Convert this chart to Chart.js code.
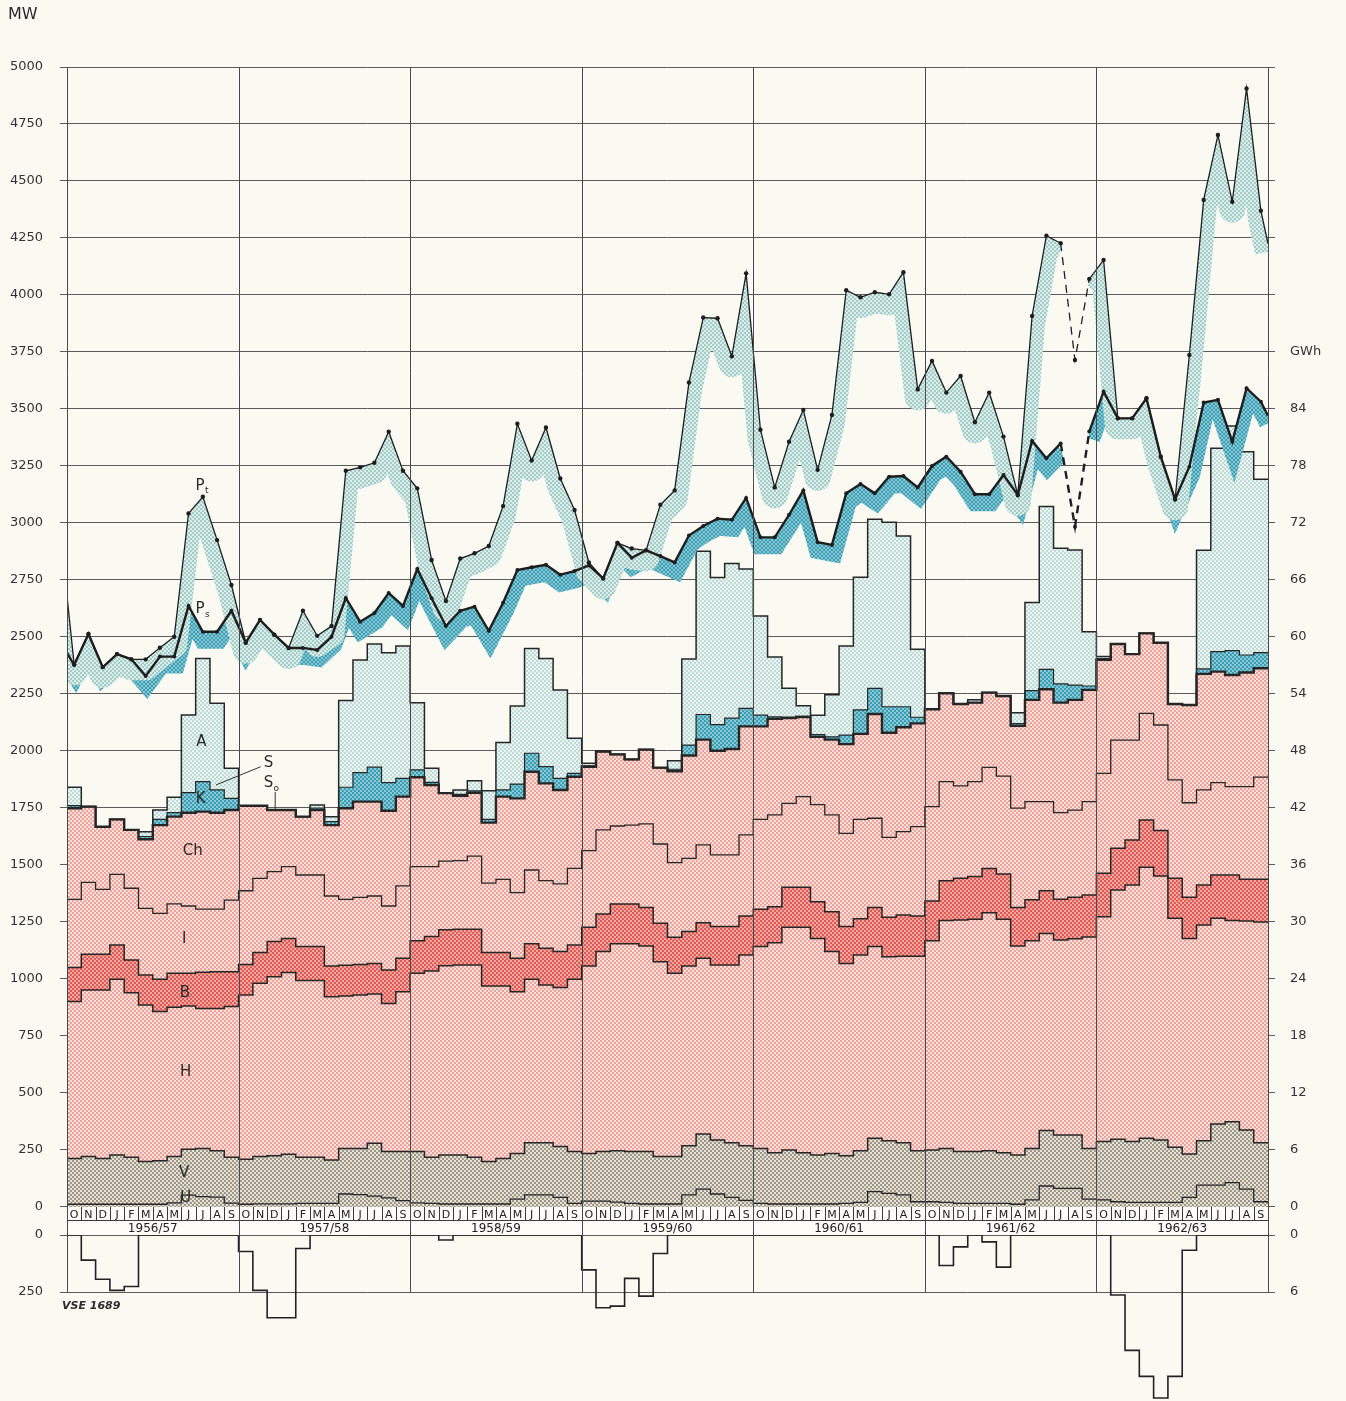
<!DOCTYPE html>
<html>
<head>
<meta charset="utf-8">
<title>Zatížení a výroba 1956/57 – 1962/63</title>
<script src="https://cdn.jsdelivr.net/npm/chart.js@4.4.1/dist/chart.umd.min.js"></script>
<style>
  html, body { margin: 0; padding: 0; background: #fbfaf2; }
  #wrap { position: relative; width: 1346px; height: 1401px; }
</style>
</head>
<body>
<div id="wrap"><canvas id="grafico"></canvas></div>
<script>
const FONT = '"DejaVu Sans", "Liberation Sans", sans-serif';

// hydrological years, October .. September
const MONTHS = ["O", "N", "D", "J", "F", "M", "A", "M", "J", "J", "A", "S"];
const YEARS = ["1956/57", "1957/58", "1958/59", "1959/60", "1960/61", "1961/62", "1962/63"];

const MW_TICKS = [0, 250, 500, 750, 1000, 1250, 1500, 1750, 2000, 2250, 2500, 2750,
  3000, 3250, 3500, 3750, 4000, 4250, 4500, 4750, 5000];
const GWH_TICKS = [0, 6, 12, 18, 24, 30, 36, 42, 48, 54, 60, 66, 72, 78, 84];
const LOW_MW_TICKS = [0, 250];
const LOW_GWH_TICKS = [0, 6];

// upper edge of each layer (MW), one value per month
const U = [
  12, 12, 12, 12, 12, 12, 12, 18, 52, 45, 43, 17,
  12, 14, 14, 14, 16, 16, 16, 57, 54, 48, 40, 28,
  18, 16, 13, 13, 13, 13, 13, 34, 53, 53, 42, 16,
  26, 26, 21, 16, 13, 13, 13, 53, 78, 57, 42, 29,
  16, 13, 13, 13, 13, 13, 16, 20, 67, 60, 53, 23,
  23, 20, 16, 16, 16, 16, 12, 31, 92, 82, 82, 34,
  31, 23, 20, 20, 20, 20, 42, 96, 96, 107, 78, 23
];
const V = [
  213, 221, 213, 228, 218, 199, 203, 221, 253, 257, 247, 218,
  209, 221, 225, 231, 218, 218, 206, 257, 257, 279, 243, 243,
  243, 218, 228, 228, 218, 199, 213, 235, 282, 282, 265, 243,
  235, 243, 247, 243, 243, 221, 221, 268, 320, 294, 282, 268,
  257, 238, 250, 238, 228, 235, 225, 247, 301, 291, 282, 247,
  250, 257, 243, 243, 247, 238, 228, 257, 335, 316, 316, 257,
  287, 297, 287, 301, 294, 262, 232, 291, 364, 374, 338, 282
];
const H = [
  901, 952, 952, 999, 940, 886, 857, 876, 882, 871, 871, 879,
  930, 981, 1010, 1028, 993, 993, 922, 925, 930, 934, 893, 944,
  1025, 1035, 1058, 1061, 1061, 969, 969, 944, 999, 974, 963, 999,
  1057, 1120, 1154, 1154, 1145, 1076, 1025, 1057, 1091, 1061, 1061, 1105,
  1142, 1159, 1227, 1227, 1178, 1120, 1068, 1105, 1142, 1098, 1100, 1100,
  1168, 1256, 1259, 1262, 1291, 1262, 1145, 1168, 1200, 1171, 1176, 1184,
  1273, 1390, 1412, 1490, 1452, 1266, 1178, 1237, 1266, 1256, 1254, 1250
];
const B = [
  1050, 1108, 1108, 1149, 1083, 1018, 999, 1025, 1025, 1029, 1032, 1032,
  1064, 1116, 1164, 1178, 1142, 1142, 1057, 1060, 1064, 1068, 1039, 1091,
  1168, 1186, 1216, 1218, 1218, 1116, 1116, 1091, 1154, 1135, 1120, 1149,
  1227, 1285, 1329, 1329, 1314, 1244, 1183, 1208, 1247, 1230, 1230, 1276,
  1306, 1317, 1402, 1402, 1339, 1295, 1230, 1264, 1314, 1271, 1281, 1276,
  1342, 1431, 1442, 1449, 1485, 1461, 1314, 1347, 1387, 1350, 1358, 1368,
  1464, 1573, 1610, 1697, 1651, 1442, 1358, 1412, 1456, 1456, 1437, 1437
];
const I = [
  1349, 1424, 1393, 1459, 1398, 1310, 1288, 1329, 1320, 1306, 1306, 1346,
  1387, 1441, 1471, 1493, 1456, 1456, 1364, 1349, 1358, 1364, 1320, 1408,
  1493, 1493, 1517, 1519, 1539, 1420, 1437, 1379, 1478, 1431, 1417, 1485,
  1563, 1654, 1671, 1675, 1680, 1592, 1510, 1529, 1588, 1544, 1544, 1632,
  1700, 1720, 1770, 1800, 1765, 1720, 1639, 1700, 1705, 1621, 1646, 1668,
  1756, 1866, 1847, 1866, 1928, 1890, 1749, 1778, 1778, 1730, 1741, 1778,
  1902, 2048, 2048, 2165, 2114, 1873, 1773, 1829, 1861, 1844, 1844, 1885
];
const CH = [
  1749, 1756, 1668, 1700, 1654, 1613, 1675, 1712, 1729, 1734, 1729, 1741,
  1760, 1760, 1741, 1741, 1712, 1741, 1675, 1749, 1778, 1778, 1738, 1800,
  1885, 1851, 1815, 1803, 1817, 1686, 1800, 1792, 1909, 1858, 1829, 1887,
  1931, 1998, 1985, 1963, 2006, 1927, 1911, 1980, 2050, 2001, 2009, 2108,
  2108, 2141, 2144, 2149, 2062, 2050, 2030, 2075, 2162, 2080, 2104, 2121,
  2183, 2253, 2206, 2212, 2256, 2241, 2110, 2224, 2271, 2212, 2224, 2268,
  2400, 2469, 2425, 2516, 2475, 2206, 2202, 2338, 2348, 2333, 2344, 2363
];
const K = [
  1760, 1756, 1668, 1700, 1654, 1625, 1700, 1730, 1817, 1866, 1829, 1792,
  1760, 1760, 1741, 1741, 1712, 1750, 1690, 1841, 1905, 1929, 1861, 1880,
  1917, 1862, 1815, 1810, 1825, 1700, 1829, 1855, 1990, 1931, 1880, 1902,
  1935, 1998, 1985, 1963, 2006, 1927, 1920, 2026, 2160, 2116, 2144, 2187,
  2157, 2150, 2149, 2152, 2072, 2062, 2070, 2180, 2275, 2194, 2194, 2148,
  2183, 2253, 2206, 2212, 2256, 2241, 2120, 2265, 2358, 2294, 2289, 2285,
  2405, 2469, 2425, 2516, 2475, 2206, 2202, 2360, 2436, 2440, 2421, 2431
];
const A = [
  1841, 1756, 1668, 1700, 1654, 1646, 1741, 1797, 2158, 2406, 2209, 1924,
  1760, 1760, 1741, 1741, 1712, 1763, 1712, 2221, 2399, 2469, 2431, 2460,
  2212, 1924, 1815, 1829, 1870, 1826, 2037, 2197, 2450, 2406, 2268, 2056,
  1946, 1998, 1985, 1963, 2006, 1927, 1957, 2403, 2876, 2761, 2822, 2798,
  2592, 2412, 2275, 2198, 2157, 2247, 2460, 2762, 3016, 3003, 2943, 2446,
  2183, 2253, 2206, 2225, 2256, 2241, 2168, 2651, 3072, 2889, 2882, 2523,
  2414, 2469, 2425, 2516, 2475, 2206, 2202, 2880, 3328, 3425, 3313, 3192
];

// monthly points Pt and Ps (MW), plus the values where the lines cut the frame
const PT = [
  2380, 2513, 2368, 2425, 2402, 2402, 2453, 2501, 3042, 3115, 2925, 2728,
  2475, 2575, 2510, 2452, 2615, 2505, 2548, 3229, 3244, 3264, 3400, 3229,
  3152, 2838, 2658, 2844, 2867, 2899, 3074, 3435, 3274, 3419, 3195, 3057,
  2827, 2757, 2913, 2888, 2880, 3080, 3143, 3616, 3901, 3898, 3731, 4095,
  3409, 3156, 3356, 3496, 3233, 3474, 4021, 3990, 4012, 4003, 4100, 3586,
  3711, 3572, 3645, 3442, 3572, 3379, 3123, 3908, 4260, 4227, 3715, 4070,
  4154, 3459, 3459, 3547, 3291, 3104, 3737, 4417, 4702, 4409, 4906, 4370
];
const PT_EDGES = [2680, 4225];
const PS = [
  2377, 2513, 2367, 2425, 2402, 2329, 2414, 2414, 2636, 2523, 2523, 2615,
  2475, 2575, 2510, 2452, 2452, 2443, 2501, 2671, 2567, 2605, 2693, 2636,
  2798, 2670, 2548, 2615, 2633, 2527, 2650, 2794, 2806, 2817, 2773, 2789,
  2814, 2757, 2913, 2847, 2880, 2855, 2827, 2945, 2987, 3019, 3014, 3110,
  2937, 2937, 3036, 3143, 2916, 2904, 3130, 3171, 3130, 3203, 3206, 3156,
  3250, 3291, 3225, 3126, 3126, 3210, 3123, 3360, 3284, 3349, 2984, 3401,
  3576, 3459, 3459, 3547, 3291, 3104, 3247, 3528, 3540, 3357, 3591, 3532
];
const PS_EDGES = [2430, 3470];
const DASHED_MONTHS = [70];

// lower panel (MW, drawn downwards)
const LOW = [
  0, 110, 194, 243, 226, 0, 0, 0, 0, 0, 0, 0,
  72, 243, 363, 363, 59, 0, 0, 0, 0, 0, 0, 0,
  0, 0, 22, 0, 0, 0, 0, 0, 0, 0, 0, 0,
  153, 319, 312, 190, 268, 81, 0, 0, 0, 0, 0, 0,
  0, 0, 0, 0, 0, 0, 0, 0, 0, 0, 0, 0,
  0, 134, 52, 0, 30, 141, 0, 0, 0, 0, 0, 0,
  0, 263, 506, 620, 715, 620, 67, 0, 0, 0, 0, 0
];

const GWH_PER_MW = 84 / 3500;
const GAP = 123;        // height of the month strip, in MW
const Y_MIN = -851;

// series letters, placed in data units (month, MW)
const LABELS = [
  { text: "P", sub: "t", x: 9.3, y: 3162 },
  { text: "P", sub: "s", x: 9.3, y: 2621 },
  { text: "A", x: 9.4, y: 2041 },
  { text: "K", x: 9.35, y: 1789 },
  { text: "S", x: 14.1, y: 1949 },
  { text: "S", sub: "o", x: 14.1, y: 1858 },
  { text: "Ch", x: 8.8, y: 1563 },
  { text: "I", x: 8.2, y: 1175 },
  { text: "B", x: 8.25, y: 940 },
  { text: "H", x: 8.3, y: 593 },
  { text: "V", x: 8.2, y: 149 },
  { text: "U", x: 8.3, y: 39 }
];
const LEADERS = [
  [13.55, 1931, 10.42, 1851],
  [14.56, 1820, 14.56, 1745]
];

function dots(base, dot) {
  const c = document.createElement("canvas");
  c.width = c.height = 4;
  const g = c.getContext("2d");
  g.fillStyle = base;
  g.fillRect(0, 0, 4, 4);
  g.fillStyle = dot;
  g.fillRect(0, 0, 2, 2);
  g.fillRect(2, 2, 2, 2);
  return g.createPattern(c, "repeat");
}

const rosa = dots("#fbe0da", "#eba29b");
const rojo = dots("#f3a7a1", "#dc5a53");
const celeste = dots("#edf5f2", "#bcdad6");
const azul = dots("#86c9d4", "#3d9db2");
const gris = dots("#e6e1d3", "#9c978a");
const bandaClara = dots("#dcede9", "#a3cdc8");

const stepPoints = arr => arr.map((v, i) => ({ x: i, y: v })).concat([{ x: arr.length, y: arr[arr.length - 1] }]);
const midPoints = (arr, edges) => [{ x: 0, y: edges[0] }]
  .concat(arr.map((v, i) => ({ x: i + 0.5, y: v })), [{ x: arr.length, y: edges[1] }]);

function isGap(ctx) {
  const a = Math.floor(ctx.p0.parsed.x), b = Math.floor(ctx.p1.parsed.x);
  return DASHED_MONTHS.includes(a) || DASHED_MONTHS.includes(b);
}

function layer(label, data, bg, width, fill) {
  return {
    label, data: stepPoints(data), stepped: true, fill,
    backgroundColor: bg, borderColor: "#262626", borderWidth: width,
    pointRadius: 0, order: 3
  };
}

// wide shadow stroke kept only below its own line
function band(label, data, edges, color, width, shift, join) {
  return {
    label, data: midPoints(data, edges), fill: false,
    borderColor: color, borderWidth: width, borderJoinStyle: join,
    pointRadius: 0, order: 2, shift,
    segment: { borderColor: ctx => isGap(ctx) ? "rgba(0,0,0,0)" : undefined }
  };
}

function curve(label, data, edges, width, radius) {
  return {
    label, data: midPoints(data, edges), fill: false,
    borderColor: "#1e1e1e", borderWidth: width,
    pointRadius: ctx => (ctx.raw && ctx.raw.x % 1 ? radius : 0),
    pointBackgroundColor: "#1e1e1e", pointBorderWidth: 0,
    order: 1,
    segment: { borderDash: ctx => isGap(ctx) ? [8, 6] : undefined }
  };
}

const shiftPlugin = {
  id: "shift",
  beforeDatasetDraw(chart, args) {
    const ds = chart.data.datasets[args.index];
    if (!ds.shift) return;
    const ctx = chart.ctx, pts = args.meta.data, bottom = chart.chartArea.bottom;
    ctx.save();
    ctx.beginPath();
    ctx.moveTo(pts[0].x, pts[0].y);
    pts.forEach(p => ctx.lineTo(p.x, p.y));
    ctx.lineTo(pts[pts.length - 1].x, bottom);
    ctx.lineTo(pts[0].x, bottom);
    ctx.closePath();
    ctx.clip();
    ctx.translate(ds.shift[0], ds.shift[1]);
  },
  afterDatasetDraw(chart, args) {
    if (chart.data.datasets[args.index].shift) chart.ctx.restore();
  }
};

function line(ctx, x1, y1, x2, y2) {
  ctx.beginPath();
  ctx.moveTo(x1, y1);
  ctx.lineTo(x2, y2);
  ctx.stroke();
}

const decor = {
  id: "decor",
  afterDatasetsDraw(chart) {
    const { ctx, chartArea } = chart;
    const sx = chart.scales.x, sy = chart.scales.y, sl = chart.scales.yLow;
    const top = sy.getPixelForValue(5000);
    const zero = sy.getPixelForValue(0);
    const lowZero = sl.getPixelForValue(0);
    const low250 = sl.getPixelForValue(LOW_MW_TICKS[1]);
    const mid = Math.round(zero + 13) + 0.5;
    ctx.save();

    ctx.fillStyle = "#fdfcf7";
    ctx.fillRect(chartArea.left, zero, chartArea.right - chartArea.left, lowZero - zero);

    ctx.strokeStyle = "#3a3a3a";
    ctx.lineWidth = 1;
    line(ctx, chartArea.left, mid, chartArea.right, mid);
    for (let i = 0; i <= MONTHS.length * YEARS.length; i++) {
      const x = Math.round(sx.getPixelForValue(i)) + 0.5;
      line(ctx, x, zero, x, mid);
    }
    ctx.strokeStyle = "#4a4a4a";
    for (let j = 0; j <= YEARS.length; j++) {
      const x = Math.round(sx.getPixelForValue(j * 12)) + 0.5;
      line(ctx, x, top, x, low250);
    }

    ctx.fillStyle = "#222";
    ctx.textAlign = "center";
    ctx.textBaseline = "middle";
    ctx.font = "11px " + FONT;
    for (let i = 0; i < MONTHS.length * YEARS.length; i++) {
      ctx.fillText(MONTHS[i % 12], sx.getPixelForValue(i + 0.5), (zero + mid) / 2 + 1);
    }
    ctx.font = "12px " + FONT;
    YEARS.forEach((yr, j) => ctx.fillText(yr, sx.getPixelForValue(j * 12 + 6), (mid + lowZero) / 2 + 1));

    // series letters
    ctx.fillStyle = "#2a2a2a";
    LABELS.forEach(l => {
      const px = sx.getPixelForValue(l.x), py = sy.getPixelForValue(l.y);
      ctx.font = "15px " + FONT;
      ctx.textAlign = "center";
      ctx.fillText(l.text, px, py);
      if (l.sub) {
        ctx.font = "9px " + FONT;
        ctx.textAlign = "left";
        ctx.fillText(l.sub, px + 5, py + 5);
      }
    });
    ctx.strokeStyle = "#333";
    ctx.lineWidth = 1;
    LEADERS.forEach(p => line(ctx, sx.getPixelForValue(p[0]), sy.getPixelForValue(p[1]),
      sx.getPixelForValue(p[2]), sy.getPixelForValue(p[3])));

    ctx.textAlign = "left";
    ctx.font = "16px " + FONT;
    ctx.fillText("MW", 8, 15);
    ctx.font = "italic bold 11px " + FONT;
    ctx.fillText("VSE 1689", chartArea.left - 5, sl.getPixelForValue(310));
    ctx.restore();
  }
};

new Chart(document.getElementById("grafico"), {
  type: "line",
  data: {
    datasets: [
      layer("U", U, gris, 1.3, "origin"),
      layer("V", V, gris, 1.5, "-1"),
      layer("H", H, rosa, 1.5, "-1"),
      layer("B", B, rojo, 1.5, "-1"),
      layer("I", I, rosa, 1.3, "-1"),
      layer("Ch", CH, rosa, 2.4, "-1"),
      layer("K", K, azul, 1.2, "-1"),
      layer("A", A, celeste, 1.5, "-1"),
      band("Pt band", PT, PT_EDGES, bandaClara, 26, [0, 8], "round"),
      band("Ps band", PS, PS_EDGES, azul, 20, [1, 7], "miter"),
      curve("Pt", PT, PT_EDGES, 1.3, 2.2),
      curve("Ps", PS, PS_EDGES, 2.4, 2),
      {
        label: "Low", data: stepPoints(LOW), yAxisID: "yLow", stepped: true,
        fill: false, borderColor: "#222", borderWidth: 1.6, pointRadius: 0,
        order: 1, clip: false
      }
    ]
  },
  options: {
    responsive: true,
    maintainAspectRatio: false,
    animation: false,
    layout: { padding: { top: 67, bottom: 0, left: 0, right: 0 } },
    plugins: {
      legend: { display: false },
      tooltip: { enabled: false },
      filler: { drawTime: "beforeDatasetsDraw" }
    },
    scales: {
      x: { type: "linear", min: 0, max: 84, display: false },
      y: {
        position: "left", min: Y_MIN, max: 5000, z: 1,
        afterBuildTicks: s => {
          s.ticks = MW_TICKS.map(v => ({ value: v }))
            .concat(LOW_MW_TICKS.map(v => ({ value: -GAP - v })));
        },
        afterFit: s => { s.width = 67; s.paddingTop = 0; s.paddingBottom = 0; },
        grid: { color: "#5a5a5a", lineWidth: 1, tickLength: 7 },
        border: { display: false },
        ticks: {
          padding: 17, color: "#333", font: { family: FONT, size: 13 },
          callback: v => (v >= 0 ? v : -GAP - v)
        }
      },
      yLow: { display: false, reverse: true, min: -GAP - 5000, max: -GAP - Y_MIN },
      yR: {
        position: "right", min: Y_MIN * GWH_PER_MW, max: 5000 * GWH_PER_MW, z: 1,
        afterBuildTicks: s => {
          s.ticks = MW_TICKS.map(v => ({ value: v * GWH_PER_MW }))
            .concat(LOW_GWH_TICKS.map(g => ({ value: -GAP * GWH_PER_MW - g })));
        },
        afterFit: s => { s.width = 78; s.paddingTop = 0; s.paddingBottom = 0; },
        grid: { drawOnChartArea: false, color: "#5a5a5a", tickLength: 7 },
        border: { display: false },
        ticks: {
          padding: 15, color: "#333", font: { family: FONT, size: 13 },
          callback: v => {
            if (v < 0) return String(Math.round(-GAP * GWH_PER_MW - v));
            const g = Math.round(v);
            if (g === 90) return "GWh";
            return GWH_TICKS.includes(g) ? String(g) : "";
          }
        }
      }
    }
  },
  plugins: [shiftPlugin, decor]
});
</script>
</body>
</html>
